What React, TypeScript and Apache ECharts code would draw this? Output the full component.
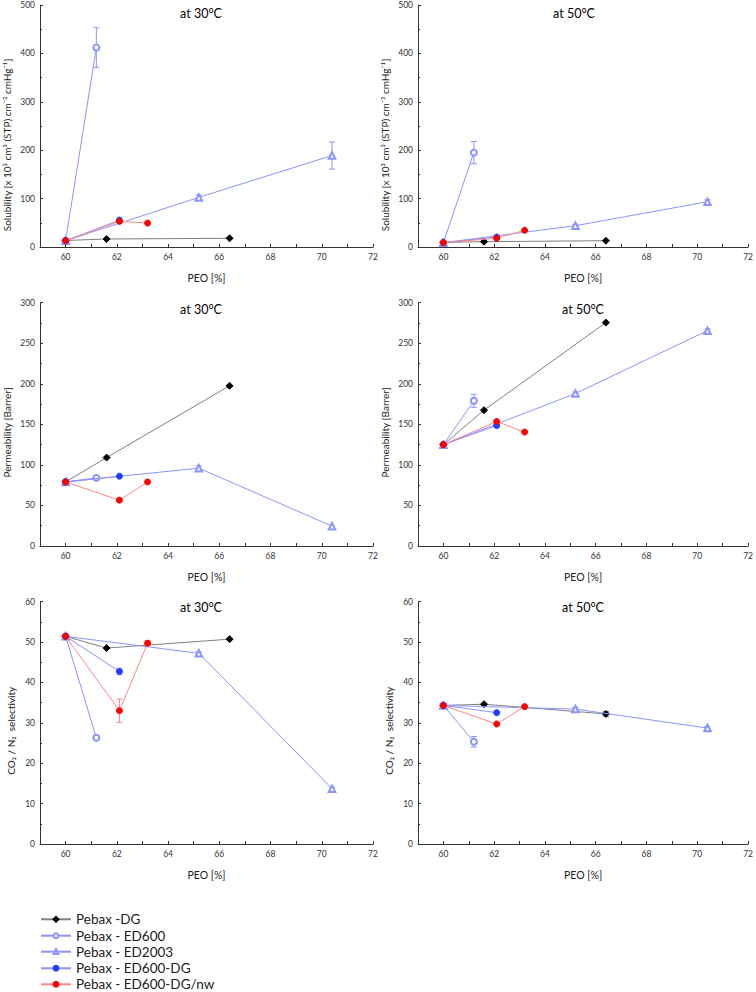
import React, { useEffect, useRef } from 'react';
import * as echarts from 'echarts';

const FONT = 'Lato, "Open Sans", sans-serif';

const seriesNames = ['Pebax -DG', 'Pebax - ED600', 'Pebax - ED2003', 'Pebax - ED600-DG', 'Pebax - ED600-DG/nw'];

// PEO content [%] per membrane family
const peoDG = [60, 61.6, 66.4];
const peoED600 = [60, 61.2];
const peoED2003 = [60, 65.2, 70.4];
const peoED600DG = [60, 62.1];
const peoNW = [60, 62.1, 63.2];

// Solubility at 30°C
const sol30DG = [13.5, 16.5, 18];
const sol30ED600 = [13, 412];
const sol30ED600Err = [0, 41];
const sol30ED2003 = [13, 102.5, 189];
const sol30ED2003Err = [0, 5, 28];
const sol30ED600DG = [13, 55.5];
const sol30NW = [13, 53, 49.5];

// Solubility at 50°C
const sol50DG = [9.5, 11, 13];
const sol50ED600 = [9, 195];
const sol50ED600Err = [0, 23];
const sol50ED2003 = [9, 44, 93.5];
const sol50ED2003Err = [0, 3, 4];
const sol50ED600DG = [9, 20.5];
const sol50NW = [9, 18, 34.5];

// Permeability at 30°C
const perm30DG = [79, 109, 197.5];
const perm30ED600 = [79, 84];
const perm30ED2003 = [79, 96, 24.5];
const perm30ED2003Err = [0, 3, 0];
const perm30ED600DG = [79, 86];
const perm30NW = [79, 56.5, 79];

// Permeability at 50°C
const perm50DG = [125, 167.5, 275.5];
const perm50ED600 = [125, 179];
const perm50ED600Err = [0, 8];
const perm50ED2003 = [125, 188, 265.5];
const perm50ED2003Err = [0, 2, 2];
const perm50ED600DG = [125, 148.5];
const perm50NW = [125, 153.5, 140.5];

// CO2/N2 selectivity at 30°C
const sel30DG = [51.4, 48.5, 50.7];
const sel30ED600 = [51.4, 26.3];
const sel30ED600Err = [0, 0.4];
const sel30ED2003 = [51.4, 47.2, 13.7];
const sel30ED2003Err = [0, 0.4, 0.4];
const sel30ED600DG = [51.4, 42.7];
const sel30ED600DGErr = [0, 0.8];
const sel30NW = [51.4, 33, 49.7];
const sel30NWErr = [0.5, 2.9, 0.6];

// CO2/N2 selectivity at 50°C
const sel50DG = [34.3, 34.6, 32.2];
const sel50DGErr = [0, 0.3, 0.6];
const sel50ED600 = [34.3, 25.3];
const sel50ED600Err = [0, 1.3];
const sel50ED2003 = [34.3, 33.4, 28.7];
const sel50ED2003Err = [0, 0.4, 0.4];
const sel50ED600DG = [34.3, 32.5];
const sel50NW = [34.3, 29.7, 34.0];

const titles = ['at 30°C', 'at 50°C', 'at 30°C', 'at 50°C', 'at 30°C', 'at 50°C'];
const yNames = [
  'Solubility [x 10³ cm³ (STP) cm⁻³ cmHg⁻¹]',
  'Solubility [x 10³ cm³ (STP) cm⁻³ cmHg⁻¹]',
  'Permeability [Barrer]',
  'Permeability [Barrer]',
  'CO₂ / N₂  selectivity',
  'CO₂ / N₂  selectivity',
];
const yMax = [500, 500, 300, 300, 60, 60];
const yInterval = [100, 100, 50, 50, 10, 10];

const styles = [
  { line: '#808080', marker: '#000000', symbol: 'diamond', size: 7 },
  { line: '#8a94ff', marker: '#8a94ff', symbol: 'emptyCircle', size: 6 },
  { line: '#8a94ff', marker: '#8a94ff', symbol: 'emptyTriangle', size: 6.5 },
  { line: '#8a94ff', marker: '#1f3cff', symbol: 'circle', size: 6 },
  { line: '#ff8585', marker: '#ff0000', symbol: 'circle', size: 6 },
];

const xs = [peoDG, peoED600, peoED2003, peoED600DG, peoNW];
const panelValues: number[][][] = [
  [sol30DG, sol30ED600, sol30ED2003, sol30ED600DG, sol30NW],
  [sol50DG, sol50ED600, sol50ED2003, sol50ED600DG, sol50NW],
  [perm30DG, perm30ED600, perm30ED2003, perm30ED600DG, perm30NW],
  [perm50DG, perm50ED600, perm50ED2003, perm50ED600DG, perm50NW],
  [sel30DG, sel30ED600, sel30ED2003, sel30ED600DG, sel30NW],
  [sel50DG, sel50ED600, sel50ED2003, sel50ED600DG, sel50NW],
];
const panelErrors: (number[] | null)[][] = [
  [null, sol30ED600Err, sol30ED2003Err, null, null],
  [null, sol50ED600Err, sol50ED2003Err, null, null],
  [null, null, perm30ED2003Err, null, null],
  [null, perm50ED600Err, perm50ED2003Err, null, null],
  [null, sel30ED600Err, sel30ED2003Err, sel30ED600DGErr, sel30NWErr],
  [sel50DGErr, sel50ED600Err, sel50ED2003Err, null, null],
];

// layout
const colLeft = [40, 418];
const gridWidth = 333;
const rowTop = [5, 302.7, 601.6];
const rowHeight = [242, 243.3, 242.4];
const titlePos = [
  [201, 13], [574, 13],
  [201, 309], [583, 309],
  [201, 607], [583, 607],
];
const yNameGap = [28, 28, 28, 28, 24, 24];
const yNameShift = [38, 38, 16, 16, 16, 16];
const legendCenterY = [919.3, 935.7, 951.7, 968.3, 984.3];

function buildOption() {
  const grid: any[] = [];
  const xAxis: any[] = [];
  const yAxis: any[] = [];
  const series: any[] = [];
  const graphic: any[] = [];
  for (let p = 0; p < 6; p++) {
    const r = Math.floor(p / 2);
    const c = p % 2;
    grid.push({ left: colLeft[c], top: rowTop[r], width: gridWidth, height: rowHeight[r] });
    xAxis.push({
      type: 'value', gridIndex: p, min: 59, max: 72, interval: 1,
      axisLine: { show: true, onZero: false, lineStyle: { color: '#333', width: 1 } },
      axisTick: { show: true, inside: true, length: 3, lineStyle: { color: '#333' } },
      axisLabel: {
        fontSize: 8.5, color: '#333', margin: 5, fontFamily: FONT,
        formatter: (v: number) => (v % 2 === 0 ? String(v) : ''),
      },
      splitLine: { show: false },
      name: 'PEO [%]', nameLocation: 'middle', nameGap: 25,
      nameTextStyle: { fontSize: 10.5, color: '#222', fontFamily: FONT },
    });
    yAxis.push({
      type: 'value', gridIndex: p, min: 0, max: yMax[p], interval: yInterval[p],
      axisLine: { show: true, onZero: false, lineStyle: { color: '#333', width: 1 } },
      axisTick: { show: true, inside: true, length: 3, lineStyle: { color: '#333' } },
      minorTick: { show: true, splitNumber: 2, length: 2, lineStyle: { color: '#333' } },
      axisLabel: { fontSize: 8.5, color: '#333', margin: 5, fontFamily: FONT },
      splitLine: { show: false },
      name: yNames[p], nameLocation: 'middle', nameGap: yNameGap[p],
      nameTextStyle: { fontSize: 10, color: '#222', fontFamily: FONT, padding: [0, yNameShift[p], 0, 0] },
    });
    graphic.push({
      type: 'text', x: titlePos[p][0], y: titlePos[p][1],
      style: { text: titles[p], fontSize: 12.5, fill: '#000', textAlign: 'center', textVerticalAlign: 'middle', fontFamily: FONT },
    });
    for (let s = 0; s < 5; s++) {
      const st = styles[s];
      const data = xs[s].map((x, i) => [x, panelValues[p][s][i]]);
      const err = panelErrors[p][s];
      if (err) {
        const edata = xs[s].map((x, i) => [x, panelValues[p][s][i], err[i]]);
        series.push({
          type: 'custom', xAxisIndex: p, yAxisIndex: p, z: 1, silent: true,
          data: edata,
          renderItem: (params: any, api: any) => {
            const x = api.value(0), y = api.value(1), e = api.value(2);
            if (!e) return null;
            const top = api.coord([x, y + e]);
            const bot = api.coord([x, y - e]);
            const cap = 3;
            const ls = { stroke: st.line, lineWidth: 1 };
            return {
              type: 'group',
              children: [
                { type: 'line', shape: { x1: top[0], y1: top[1], x2: bot[0], y2: bot[1] }, style: ls },
                { type: 'line', shape: { x1: top[0] - cap, y1: top[1], x2: top[0] + cap, y2: top[1] }, style: ls },
                { type: 'line', shape: { x1: bot[0] - cap, y1: bot[1], x2: bot[0] + cap, y2: bot[1] }, style: ls },
              ],
            };
          },
        });
      }
      series.push({
        type: 'line', name: seriesNames[s], xAxisIndex: p, yAxisIndex: p, z: 2 + s,
        data, symbol: st.symbol, symbolSize: st.size, showAllSymbol: true,
        lineStyle: { color: st.line, width: 1 },
        itemStyle: { color: st.marker, borderColor: st.marker, borderWidth: 1 },
        emphasis: { disabled: true },
      });
    }
  }
  const legend = seriesNames.map((name, i) => ({
    data: [name], orient: 'vertical', left: 40, top: legendCenterY[i] - 7, padding: 0,
    itemWidth: 30, itemHeight: 6, itemGap: 0,
    textStyle: { fontSize: 13.5, color: '#222', fontFamily: FONT },
    selectedMode: false,
  }));
  return {
    animation: false,
    backgroundColor: '#ffffff',
    textStyle: { fontFamily: FONT },
    grid, xAxis, yAxis, series, graphic, legend,
  };
}

export default function App() {
  const ref = useRef<HTMLDivElement>(null);
  useEffect(() => {
    document.body.style.margin = '0';
    if (!ref.current) return;
    const chart = echarts.init(ref.current, undefined, { renderer: 'svg' });
    chart.setOption(buildOption() as any);
    return () => chart.dispose();
  }, []);
  return <div ref={ref} style={{ width: 756, height: 992 }} />;
}
